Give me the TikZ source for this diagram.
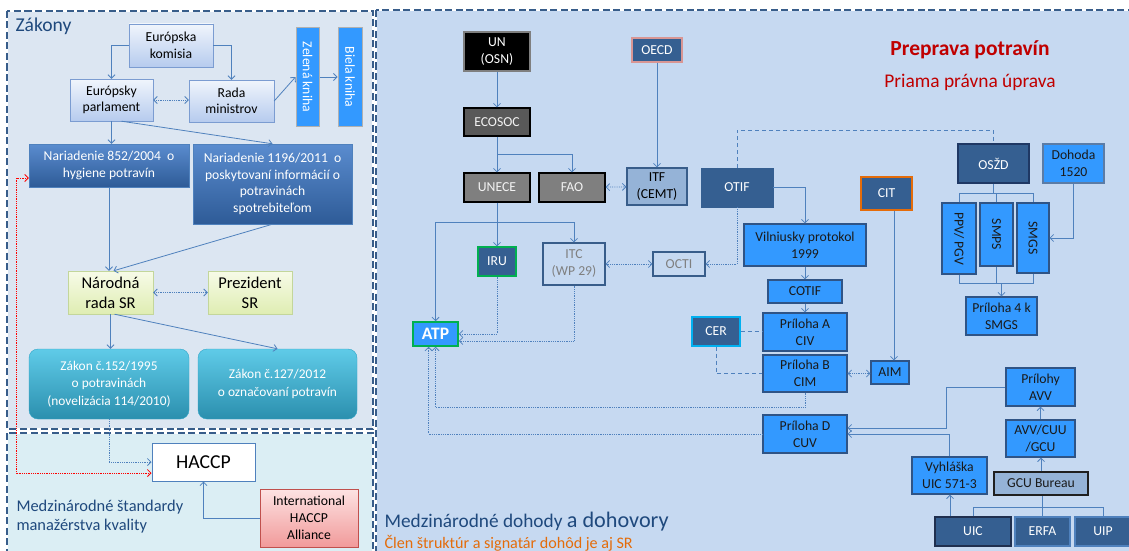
\documentclass[tikz,border=0pt]{standalone}
\usepackage{fontspec}
\setmainfont{Carlito}
\usepackage{graphicx}
\usetikzlibrary{arrows.meta,calc}
\definecolor{lpanel}{HTML}{DCE6F2}
\definecolor{cpanel}{HTML}{DBEEF4}
\definecolor{rpanel}{HTML}{C6D9F1}
\definecolor{pborder}{HTML}{385D8A}
\definecolor{conn}{HTML}{4F81BD}
\definecolor{titleblue}{HTML}{1F497D}
\definecolor{dkblue}{HTML}{355F91}
\definecolor{brblue}{HTML}{3399FF}
\definecolor{bbord}{HTML}{2F5486}
\definecolor{ltblue}{HTML}{95B3D7}
\definecolor{dred}{HTML}{C00000}
\definecolor{orng}{HTML}{E46C0A}
\definecolor{lbdraw}{HTML}{7B9CD1}
\definecolor{lbtop}{HTML}{F0F5FC}
\definecolor{lbbot}{HTML}{B6CBEE}
\definecolor{nbtop}{HTML}{5A8CCF}
\definecolor{nbbot}{HTML}{2E5B97}
\definecolor{bookdraw}{HTML}{B0B0B0}
\definecolor{ybdraw}{HTML}{C3D69B}
\definecolor{ybtop}{HTML}{F7FBE8}
\definecolor{ybbot}{HTML}{DFEDB2}
\definecolor{zbdraw}{HTML}{31A5C7}
\definecolor{zbtop}{HTML}{5FCBE8}
\definecolor{zbbot}{HTML}{2B8FAE}
\definecolor{abdraw}{HTML}{C0504D}
\definecolor{abtop}{HTML}{FDE3E3}
\definecolor{abbot}{HTML}{F19A9A}
\definecolor{gray7f}{HTML}{7F7F7F}
\definecolor{gray59}{HTML}{595959}
\definecolor{txtlight}{HTML}{F2F2F2}
\definecolor{oecddraw}{HTML}{D99694}
\definecolor{green5}{HTML}{00B050}
\definecolor{txtdark}{HTML}{1A1A1A}
\definecolor{dohdraw}{HTML}{5B7CA6}
\definecolor{cyanb}{HTML}{00B0F0}
\definecolor{navy}{HTML}{1F3864}
\definecolor{nearblack}{HTML}{1F1F1F}
\definecolor{uicdraw}{HTML}{1F2F4F}
\newcommand{\bx}[7]{\node[#1,minimum width={(#4-#2)*1pt},minimum height={(#5-#3)*1pt}] (#6) at ({(#2+#4)/2},{(#3+#5)/2}) {#7};}
\tikzset{
  bxs/.style={align=center,inner sep=1pt,font=\fontsize{13.7}{16.5}\selectfont},
  lbox/.style={bxs,draw=lbdraw,top color=lbtop,bottom color=lbbot},
  nbox/.style={bxs,draw=conn,top color=nbtop,bottom color=nbbot,text=white,font=\fontsize{13.6}{16.7}\selectfont},
  book/.style={bxs,draw=bookdraw,line width=1pt,fill=brblue,text=white},
  ybox/.style={bxs,draw=ybdraw,top color=ybtop,bottom color=ybbot,font=\fontsize{16.5}{20}\selectfont},
  zbox/.style={bxs,draw=zbdraw,rounded corners=9pt,top color=zbtop,bottom color=zbbot,text=white,font=\fontsize{13.4}{17.5}\selectfont},
  hbox/.style={bxs,draw=conn,line width=1pt,fill=white,font=\fontsize{19.7}{22}\selectfont},
  abox/.style={bxs,draw=abdraw,top color=abtop,bottom color=abbot,font=\fontsize{13.7}{17}\selectfont},
  blkbox/.style={bxs,fill=black,draw=gray7f,line width=1.2pt,text=white,font=\fontsize{13.7}{17.5}\selectfont},
  oecdbox/.style={bxs,fill=dkblue,draw=oecddraw,line width=1.2pt,text=white},
  gray1/.style={bxs,fill=gray59,draw=black,line width=1.2pt,text=txtlight},
  gray2/.style={bxs,fill=gray7f,draw=black,line width=1.2pt,text=txtlight},
  itfbox/.style={bxs,fill=ltblue,draw=pborder,line width=1.2pt,text=black,font=\fontsize{13.7}{17}\selectfont},
  dbox/.style={bxs,fill=dkblue,draw=dkblue,text=white},
  irubox/.style={bxs,fill=dkblue,draw=green5,line width=1.2pt,text=white},
  ltbox/.style={bxs,fill=rpanel,draw=pborder,line width=1.2pt,text=gray7f,font=\fontsize{13.7}{17}\selectfont},
  atpbox/.style={bxs,fill=brblue,draw=green5,line width=1.5pt,text=white,font=\fontsize{17.5}{19}\bfseries},
  bbox/.style={bxs,fill=brblue,draw=bbord,line width=1.2pt,text=txtdark,font=\fontsize{13.7}{17}\selectfont},
  bbox2/.style={bxs,fill=brblue,draw=dohdraw,line width=1.2pt,text=txtdark,font=\fontsize{13.7}{17}\selectfont},
  cerbox/.style={bxs,fill=dkblue,draw=cyanb,line width=1.4pt,text=white},
  citbox/.style={bxs,fill=dkblue,draw=orng,line width=1.4pt,text=white},
  oszdbox/.style={bxs,fill=dkblue,draw=navy,line width=1.6pt,text=white},
  gcubox/.style={bxs,fill=ltblue,draw=nearblack,line width=1.4pt,text=txtdark},
  uicbox/.style={bxs,fill=dkblue,draw=uicdraw,line width=1.4pt,text=white},
  erfabox/.style={bxs,fill=dkblue,draw=conn,line width=1.4pt,text=white},
  ln/.style={draw=conn,line width=0.8pt},
  ar/.style={ln,-{Straight Barb[length=3.5pt,width=7pt]}},
  dar/.style={ln,densely dotted,{Straight Barb[length=3.5pt,width=7pt]}-{Straight Barb[length=3.5pt,width=7pt]}},
  dotar/.style={ln,densely dotted,-{Straight Barb[length=3.5pt,width=7pt]}},
  dashln/.style={ln,dash pattern=on 4pt off 3pt},
  panelb/.style={draw=pborder,line width=2pt,dash pattern=on 7pt off 3.5pt},
}
\begin{document}
\begin{tikzpicture}[x=1pt,y=-1pt]
\useasboundingbox (0,0) rectangle (1129,551);
\begin{scope}
\clip (0,0) rectangle (1129,551);
\fill[white] (0,0) rectangle (1129,551);
% panels
\fill[lpanel] (7,11) rectangle (373,429);
\fill[cpanel] (7,433) rectangle (373,560);
\fill[rpanel] (376,10) rectangle (1145,560);
\draw[white,line width=2pt] (7,11) rectangle (373,429);
\draw[panelb] (7,11) rectangle (373,429);
\draw[white,line width=2pt] (7,433) rectangle (373,560);
\draw[panelb] (7,433) rectangle (373,560);
\draw[white,line width=2pt] (376,10) rectangle (1145,560);
\draw[panelb] (376,10) rectangle (1145,560);

% ---------- left: Zakony ----------
\node[anchor=base west,text=titleblue,font=\fontsize{19.6}{22}\selectfont] (tz) at (12,32) {Zákony};
\bx{lbox}{129}{24}{213}{67}{ek}{Európska\\komisia}
\bx{lbox}{70}{79}{153}{121}{ep}{Európsky\\parlament}
\bx{lbox}{189}{80}{274}{122}{rm}{Rada\\ministrov}
\bx{book}{296}{28}{319}{126}{zk}{\rotatebox{-90}{Zelená kniha}}
\bx{book}{338}{28}{362}{126}{bk}{\rotatebox{-90}{Biela kniha}}
\bx{nbox}{29}{144}{189}{187}{n852}{Nariadenie 852/2004~~o\\hygiene potravín}
\bx{nbox}{193}{144}{352}{224}{n1196}{Nariadenie 1196/2011~~o\\poskytovaní informácií o\\potravinách\\spotrebiteľom}
\bx{ybox}{68}{271}{153}{314}{nr}{Národná\\rada SR}
\bx{ybox}{208}{271}{292}{314}{pr}{Prezident\\SR}
\bx{zbox}{29}{349}{189}{419}{z152}{Zákon č.152/1995\\o potravinách\\(novelizácia 114/2010)}
\bx{zbox}{198}{349}{357}{419}{z127}{Zákon č.127/2012\\o označovaní potravín}

\draw[ar] (ek.west) -| (ep.north);
\draw[ar] (ek.east) -| (rm.north);
\draw[dar] (ep.east) -- (ep.east -| rm.west);
\draw[ar] (rm.east) -- (zk.west);
\draw[ar] (zk.east) -- (bk.west);
\draw[ar] (ep.south) -- (ep.south |- n852.north);
\draw[ar] ([xshift=10]ep.south) -- (n1196.north);
\draw[ar] (n852.south) -- (n852.south |- nr.north);
\draw[ar] (n1196.south) -- ([xshift=3]nr.north);
\draw[dar] (nr.east) -- (pr.west);
\draw[ar] (nr.south) -- (nr.south |- z152.north);
\draw[ar] ([xshift=4]nr.south) -- (z127.north);

% ---------- left bottom ----------
\bx{hbox}{152}{443}{255}{481}{haccp}{HACCP}
\bx{abox}{260}{489}{358}{547}{iha}{International\\HACCP\\Alliance}
\draw[dotar] (z152.south) |- (haccp.west);
\draw[ln,densely dotted,draw=red,{Straight Barb[length=3.5pt,width=7pt]}-{Straight Barb[length=3.5pt,width=7pt]}]
  ([yshift=-12.5]n852.west) -- ++(-12,0) |- ([yshift=-11]haccp.west);
\draw[ar] (iha.west) -| (haccp.south);
\node[anchor=base west,align=left,text=titleblue,font=\fontsize{16.4}{19}\selectfont] (tms) at (13,530) {Medzinárodné štandardy\\manažérstva kvality};

% ---------- right panel ----------
\node[anchor=base,text=dred,font=\fontsize{21.5}{24}\bfseries] (tpp) at (970,56) {Preprava potravín};
\node[anchor=base,text=dred,font=\fontsize{19.4}{22}\selectfont] (tpr) at (970,87) {Priama právna úprava};
\node[anchor=base west,text=titleblue,font=\fontsize{19.3}{22}\selectfont] (tmd) at (381,527) {Medzinárodné dohody {\fontsize{22.2}{24}\selectfont a dohovory}};
\node[anchor=base west,text=orng,font=\fontsize{16.1}{18}\selectfont] (tcl) at (381,548) {Člen štruktúr a signatár dohôd je aj SR};

\bx{blkbox}{464}{32}{530}{71}{un}{UN\\(OSN)}
\bx{oecdbox}{632}{38}{682}{62}{oecd}{OECD}
\bx{gray1}{464}{108}{530}{136}{ecosoc}{ECOSOC}
\bx{gray2}{464}{173}{530}{202}{unece}{UNECE}
\bx{gray2}{539}{173}{605}{202}{fao}{FAO}
\bx{itfbox}{627}{168}{687}{205}{itf}{ITF\\(CEMT)}
\bx{dbox}{701}{168}{773}{207}{otif}{OTIF}
\bx{irubox}{478}{247}{516}{276}{iru}{IRU}
\bx{ltbox}{543}{243}{605}{285}{itc}{ITC\\(WP 29)}
\bx{ltbox}{653}{252}{705}{276}{octi}{OCTI}
\bx{atpbox}{413}{322}{458}{346}{atp}{ATP}
\bx{bbox}{744}{224}{866}{266}{vil}{Vilniusky protokol\\1999}
\bx{bbox}{768}{280}{842}{303}{cotif}{COTIF}
\bx{cerbox}{692}{317}{740}{346}{cer}{CER}
\bx{bbox}{763}{313}{847}{351}{pa}{Príloha A\\CIV}
\bx{bbox}{763}{355}{847}{392}{pb}{Príloha B\\CIM}
\bx{bbox}{763}{415}{847}{453}{pd}{Príloha D\\CUV}
\bx{bbox}{871}{361}{909}{384}{aim}{AIM}
\bx{citbox}{861}{177}{912}{210}{cit}{CIT}
\bx{oszdbox}{958}{144}{1029}{183}{oszd}{OSŽD}
\bx{bbox2}{1043}{144}{1104}{183}{doh}{Dohoda\\1520}
\bx{bbox}{942}{203}{976}{274}{ppv}{\rotatebox{-90}{PPV/ PGV}}
\bx{bbox}{980}{203}{1013}{266}{smps}{\rotatebox{-90}{SMPS}}
\bx{bbox}{1017}{203}{1049}{273}{smgs}{\rotatebox{-90}{SMGS}}
\bx{bbox}{966}{297}{1037}{335}{p4}{Príloha 4 k\\SMGS}
\bx{bbox}{1006}{368}{1075}{406}{pavv}{Prílohy\\AVV}
\bx{bbox}{1006}{420}{1075}{457}{avv}{AVV/CUU\\/GCU}
\bx{gcubox}{994}{472}{1088}{495}{gcu}{GCU Bureau}
\bx{bbox}{912}{457}{987}{494}{vyh}{Vyhláška\\UIC 571-3}
\bx{uicbox}{935}{517}{1011}{546}{uic}{UIC}
\bx{erfabox}{1015}{517}{1070}{546}{erfa}{ERFA}
\bx{erfabox}{1075}{517}{1131}{546}{uip}{UIP}

% connectors right
\draw[ar] (un) -- (ecosoc);
\draw[ar] (ecosoc) -- (unece);
\coordinate (e1) at ($(ecosoc.south)+(0,18)$);
\draw[ar] (e1) -| (fao.north);
\draw[ar] (oecd) -- (itf);
\draw[dar] (fao) -- (itf);
\draw[dashln] (otif.north) -- (otif.north |- 0,130) -| (oszd.north);
\draw[ar] (otif.east) -| (vil.north);
\draw[dotar] (otif.south) |- (octi.east);
\draw[ar] (unece) -- (iru);
\coordinate (br) at (unece.south |- 0,222);
\draw[ar] (br) -| (atp.north);
\draw[ar] (br) -| (itc.north);
\draw[dar] (itc) -- (octi);
\draw[dotar] (iru.south) |- (atp.east);
\draw[dotar] (itc.south) |- ([yshift=-7]atp.east);
\draw[dotar] (pb.south) -- ++(0,15) -| (atp.south);
\draw[dotar] (pd.west) -| ([xshift=-7]atp.south);
\draw[ar] (vil) -- (cotif);
\draw[ar] (cotif) -- (pa);
\draw[dashln] (cer.east) -- (cer.east -| pa.west);
\draw[dashln] (cer.south) |- (pb.west);
\draw[dar] (pb.east) -- (pb.east -| aim.west);
\draw[ar] ([xshift=7.5]cit.south) -- ([xshift=7.5]cit.south |- aim.north);
% OSZD tree
\coordinate (t1) at ($(oszd.south)+(0,10)$);
\draw[ln] (oszd.south) -- (t1);
\draw[ln] (ppv.north) |- (t1) -| (smgs.north);
\draw[ln] (smps.north) -- (smps.north |- t1);
\draw[ar] (doh.south) |- (smgs.east);
\coordinate (t2) at (0,283);
\draw[ln] (ppv.south) |- (t2 -| smgs.south) -- (smgs.south);
\draw[ln] (smps.south) -- (smps.south |- t2);
\draw[ar] (p4.north |- t2) -- (p4.north);
% UIC tree
\draw[ar] (gcu.north) -- (gcu.north |- avv.south);
\draw[ar] (avv.north) -- (avv.north |- pavv.south);
\coordinate (t3) at (0,507);
\draw[ln] (uic.north) |- (t3 -| uip.north) -- (uip.north);
\draw[ln] (erfa.north) -- (erfa.north |- gcu.south);
\draw[ar] ([xshift=-23]uic.north) -- ([xshift=-23]uic.north |- vyh.south);
\draw[ar] (vyh.north) |- (pd.east);
\draw[ar] (pavv.west) -- ++(-59,0) -- ++(0,41) -- ([yshift=6]pd.east);
\end{scope}
\end{tikzpicture}
\end{document}
